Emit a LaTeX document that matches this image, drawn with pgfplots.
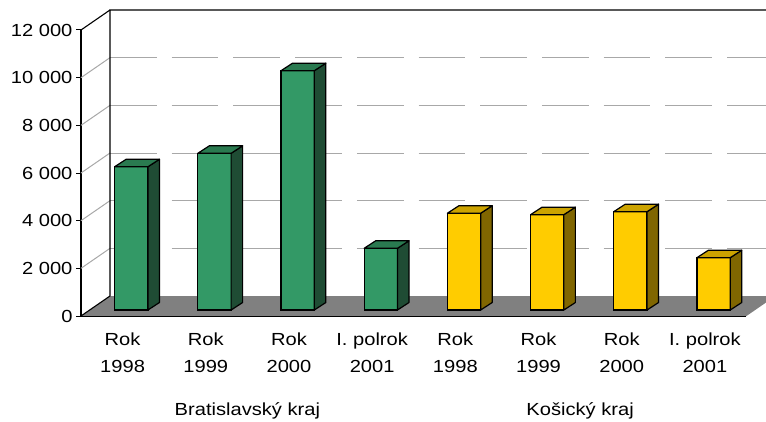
\documentclass[border=0pt]{standalone}
\usepackage{fontspec}
\setmainfont{Liberation Sans}[FakeStretch=1.15]
\usepackage{pgfplots}
\usepackage{pgfplotstable}
\pgfplotsset{compat=1.18}

\definecolor{gfront}{HTML}{339966}
\definecolor{gtop}{HTML}{2A7A50}
\definecolor{gside}{HTML}{1F4C34}
\definecolor{yfront}{HTML}{FFCC00}
\definecolor{ytop}{HTML}{CCA300}
\definecolor{yside}{HTML}{806600}
\definecolor{floorgray}{HTML}{808080}
\definecolor{gridgray}{HTML}{A8A8A8}

% top and right face of a 3D bar, drawn at the top centre of its front face
\newcommand\declarebox[3]{%
\pgfdeclareplotmark{#1}{%
  \pgfmathsetlengthmacro\hh{\vv*0.0238333pt}%
  \pgfsetlinewidth{1.2pt}\pgfsetroundjoin
  \pgfsetstrokecolor{black}%
  \pgfsetfillcolor{#3}%
  \pgfpathmoveto{\pgfqpoint{16.65pt}{0pt}}%
  \pgfpathlineto{\pgfqpoint{28.15pt}{7.5pt}}%
  \pgfpathlineto{\pgfpoint{28.15pt}{7.5pt-\hh}}%
  \pgfpathlineto{\pgfpoint{16.65pt}{-\hh}}%
  \pgfpathclose
  \pgfusepath{fill,stroke}%
  \pgfsetfillcolor{#2}%
  \pgfpathmoveto{\pgfqpoint{-16.65pt}{0pt}}%
  \pgfpathlineto{\pgfqpoint{16.65pt}{0pt}}%
  \pgfpathlineto{\pgfqpoint{28.15pt}{7.5pt}}%
  \pgfpathlineto{\pgfqpoint{-5.15pt}{7.5pt}}%
  \pgfpathclose
  \pgfusepath{fill,stroke}%
}}
\declarebox{boxg}{gtop}{gside}
\declarebox{boxy}{ytop}{yside}

\pgfplotstableread{
x v
0 6010
1 6575
2 10040
3 2590
}\bratislava
\pgfplotstableread{
x v
4 4060
5 4000
6 4125
7 2195
}\kosice

\begin{document}
\begin{tikzpicture}
\begin{axis}[
  at={(81pt,105pt)}, anchor=south west,
  scale only axis, width=665.5pt, height=286pt,
  xmin=-0.5, xmax=7.5, ymin=0, ymax=12000,
  clip=false,
  axis lines*=left,
  x axis line style={draw=none},
  y axis line style={black, line width=1.1pt},
  xtick={0,...,7},
  xticklabels={{Rok\\1998},{Rok\\1999},{Rok\\2000},{I. polrok\\2001},{Rok\\1998},{Rok\\1999},{Rok\\2000},{I. polrok\\2001}},
  x tick style={draw=none},
  ytick={0,2000,...,12000},
  y tick style={black, line width=1pt},
  tick align=outside, major tick length=5pt,
  tick label style={font=\fontsize{17.5pt}{27.3pt}\selectfont},
  xticklabel style={align=center, yshift=-8pt},
  /pgf/number format/assume math mode=true,
  /pgf/number format/1000 sep={\ },
  scaled y ticks=false,
]
  % floor
  \fill[floorgray] (axis cs:-0.5,0) -- (axis cs:7.5,0)
    -- ([shift={(29pt,20pt)}]axis cs:7.5,0) -- ([shift={(29pt,20pt)}]axis cs:-0.5,0) -- cycle;
  \draw[black, line width=0.8pt] (axis cs:-0.5,0) -- (axis cs:7.5,0);
  % grid on side and back wall
  \pgfplotsinvokeforeach{2000,4000,6000,8000,10000}{
    \draw[gridgray, line width=1pt] (axis cs:-0.5,#1) -- ([shift={(29pt,20pt)}]axis cs:-0.5,#1);
    \draw[gridgray, line width=1pt, dash pattern=on 46.7pt off 15pt]
      ([shift={(29pt,20pt)}]axis cs:-0.5,#1) -- ([shift={(29pt,20pt)}]axis cs:7.5,#1);
  }
  % frame
  \draw[black, line width=1.1pt] (axis cs:-0.5,0) -- ([shift={(29pt,20pt)}]axis cs:-0.5,0)
    -- ([shift={(29pt,20pt)}]axis cs:-0.5,12000) -- ([shift={(29pt,20pt)}]axis cs:7.5,12000);
  \draw[black, line width=1.1pt] (axis cs:-0.5,12000) -- ([shift={(29pt,20pt)}]axis cs:-0.5,12000);

  \addplot[ybar, bar width=33.3pt, bar shift=0pt, fill=gfront, draw=black, line width=1.2pt,
    xshift=8.7pt, yshift=6pt, mark=boxg,
    visualization depends on={rawy \as \vv}]
    table[x=x, y=v] {\bratislava};
  \addplot[ybar, bar width=33.3pt, bar shift=0pt, fill=yfront, draw=black, line width=1.2pt,
    xshift=8.7pt, yshift=6pt, mark=boxy,
    visualization depends on={rawy \as \vv}]
    table[x=x, y=v] {\kosice};

  \node[anchor=base, font=\fontsize{17.5pt}{21pt}\selectfont] at ([yshift=-99pt]axis cs:1.5,0) {Bratislavský kraj};
  \node[anchor=base, font=\fontsize{17.5pt}{21pt}\selectfont] at ([yshift=-99pt]axis cs:5.5,0) {Košický kraj};
\end{axis}
\pgfresetboundingbox
\path[use as bounding box] (0,0) rectangle (766pt,421pt);
\end{tikzpicture}
\end{document}
